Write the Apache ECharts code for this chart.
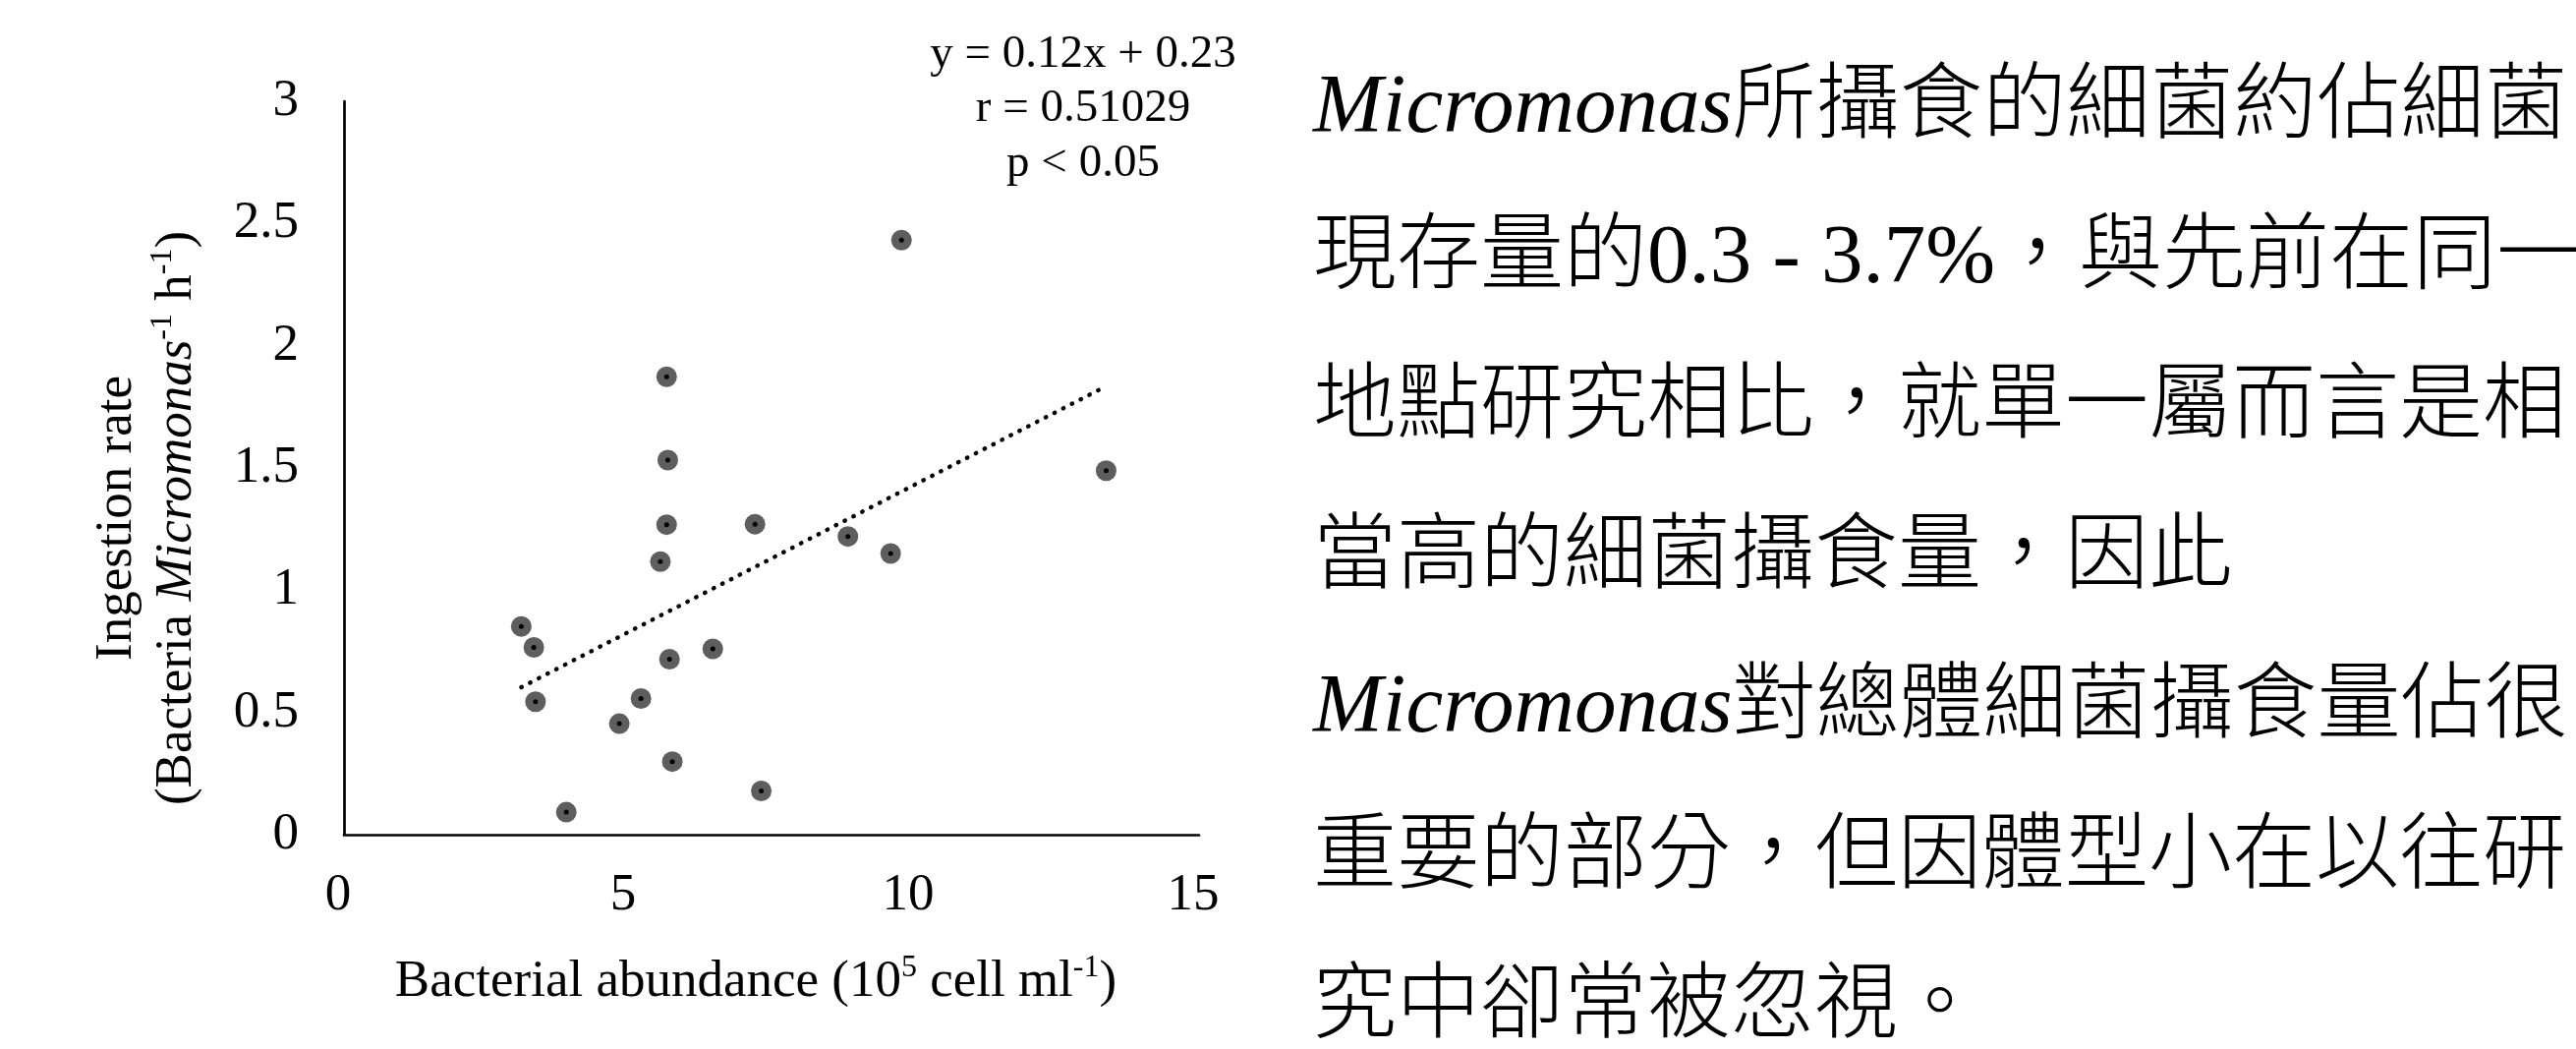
<!DOCTYPE html>
<html>
<head>
<meta charset="utf-8">
<script src="https://cdn.jsdelivr.net/npm/echarts@6/dist/echarts.min.js"></script>
<style>
  html, body { margin: 0; padding: 0; background: #fff; }
  #chart { width: 2621px; height: 1067px; }
</style>
</head>
<body>
<div id="chart"></div>
<script>
// Bacterial abundance (10^5 cells/ml) for each sample
const abundance = [9.78, 5.66, 5.68, 5.66, 7.21, 8.84, 9.59, 5.55, 13.37, 3.11, 3.33, 6.47, 5.71, 3.36, 5.21, 4.83, 5.76, 7.32, 3.90];
// Ingestion rate (bacteria per Micromonas per hour) for the same samples
const ingestion = [2.432, 1.873, 1.532, 1.268, 1.270, 1.220, 1.150, 1.117, 1.489, 0.852, 0.766, 0.760, 0.718, 0.544, 0.557, 0.454, 0.299, 0.179, 0.092];

// Regression reported in the annotation: y = 0.12x + 0.23
const slope = 0.12;
const intercept = 0.23;
const statLines = ['y = 0.12x + 0.23', 'r = 0.51029', 'p < 0.05'];

// Axis ticks
const xTicks = [0, 5, 10, 15];
const yTicks = [0, 0.5, 1, 1.5, 2, 2.5, 3];

// Paragraph beside the chart, one entry per line ({i|...} = italic genus name)
const noteLines = [
  '{i|Micromonas}所攝食的細菌約佔細菌',
  '現存量的0.3 - 3.7%，與先前在同一',
  '地點研究相比，就單一屬而言是相',
  '當高的細菌攝食量，因此',
  '{i|Micromonas}對總體細菌攝食量佔很',
  '重要的部分，但因體型小在以往研',
  '究中卻常被忽視。'
];

const serif = '"Liberation Serif", "Times New Roman", serif';
const cjk = '"Liberation Serif", "Noto Sans CJK TC", serif';

const points = abundance.map((x, i) => [x, ingestion[i]]);
const xMin = Math.min(...abundance);
const xMax = Math.max(...abundance);
const trend = [[xMin, slope * xMin + intercept], [xMax, slope * xMax + intercept]];

const chart = echarts.init(document.getElementById('chart'), null, { renderer: 'canvas' });

const graphics = [
  {
    type: 'text', x: 1102, y: 111, z: 10,
    style: {
      text: statLines.join('\n'), align: 'center', verticalAlign: 'middle',
      fontSize: 47, fontFamily: serif, lineHeight: 55.5, fill: '#000'
    }
  },
  {
    type: 'text', x: 769, y: 999, z: 10,
    style: {
      text: '{n|Bacterial abundance (10}{s|5}{n| cell ml}{s|-1}{n|)}',
      align: 'center', verticalAlign: 'middle', fill: '#000',
      rich: {
        n: { fontSize: 53, fontFamily: serif, lineHeight: 61 },
        s: { fontSize: 32, fontFamily: serif, lineHeight: 28, verticalAlign: 'top' }
      }
    }
  },
  {
    type: 'text', x: 150, y: 527, rotation: Math.PI / 2, z: 10,
    style: {
      text: '{n|Ingestion rate}\n{n|(Bacteria }{i|Micromonas}{s|-1}{n| h}{s|-1}{n|)}',
      align: 'center', verticalAlign: 'middle', fill: '#000',
      rich: {
        n: { fontSize: 53, fontFamily: serif, lineHeight: 61 },
        i: { fontSize: 53, fontFamily: serif, fontStyle: 'italic', lineHeight: 61 },
        s: { fontSize: 32, fontFamily: serif, lineHeight: 28, verticalAlign: 'top' }
      }
    }
  }
];

noteLines.forEach((line, k) => {
  graphics.push({
    type: 'text', x: 1336, y: 111.7 + k * 152.5, z: 10,
    style: {
      text: line, align: 'left', verticalAlign: 'middle', fill: '#000',
      fontSize: 85, fontFamily: cjk, fontWeight: 300,
      rich: {
        i: { fontSize: 85, fontFamily: serif, fontStyle: 'italic', fontWeight: 'normal' }
      }
    }
  });
});

chart.setOption({
  animation: false,
  backgroundColor: '#ffffff',
  grid: { left: 350, right: 1401, top: 103, bottom: 218, containLabel: false },
  xAxis: {
    type: 'value',
    min: xTicks[0], max: xTicks[xTicks.length - 1], interval: xTicks[1] - xTicks[0],
    axisLine: { show: true, onZero: false, lineStyle: { color: '#000', width: 2.7 } },
    axisTick: { show: false },
    splitLine: { show: false },
    axisLabel: {
      color: '#000', fontSize: 53, fontFamily: serif, margin: 36, lineHeight: 53,
      padding: [0, 12, 0, 0],
      showMinLabel: true, showMaxLabel: true
    }
  },
  yAxis: {
    type: 'value',
    min: yTicks[0], max: yTicks[yTicks.length - 1], interval: yTicks[1] - yTicks[0],
    axisLine: { show: true, onZero: false, lineStyle: { color: '#000', width: 2.7 } },
    axisTick: { show: false },
    splitLine: { show: false },
    axisLabel: {
      color: '#000', fontSize: 53, fontFamily: serif, margin: 46,
      showMinLabel: true, showMaxLabel: true
    }
  },
  series: [
    {
      name: 'samples', type: 'scatter', data: points,
      symbol: 'circle', symbolSize: 21,
      itemStyle: { color: '#5e5e5e', opacity: 1 },
      z: 2
    },
    {
      name: 'centres', type: 'scatter', data: points,
      symbol: 'circle', symbolSize: 5,
      itemStyle: { color: '#000', opacity: 1 },
      z: 3
    },
    {
      name: 'trend', type: 'line', data: trend,
      showSymbol: false, symbol: 'none',
      lineStyle: { color: '#000', width: 4.4, type: [0.5, 9.5], cap: 'round' },
      z: 4
    }
  ],
  graphic: graphics
});
</script>
</body>
</html>
